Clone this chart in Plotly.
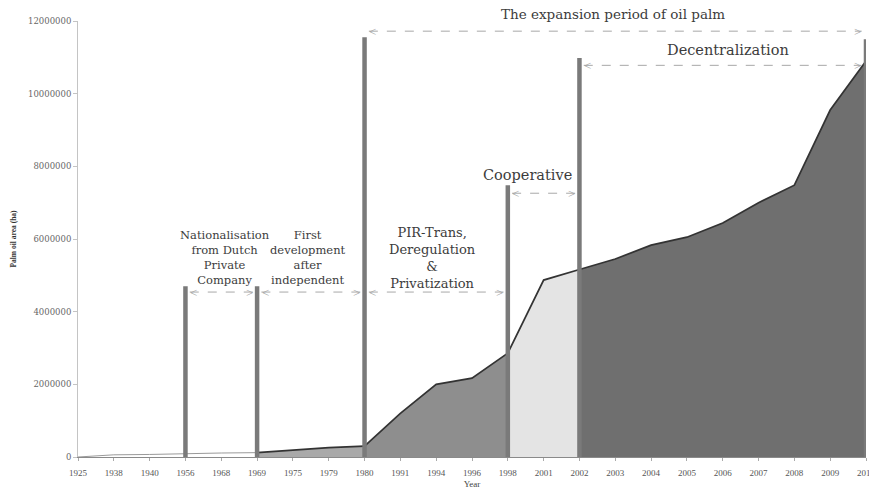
import plotly.graph_objects as go

years = ['1925', '1938', '1940', '1956', '1968', '1969', '1975', '1979', '1980', '1991', '1994',
         '1996', '1998', '2001', '2002', '2003', '2004', '2005', '2006', '2007', '2008', '2009', '2010']
area_ha = [0, 60000, 70000, 100000, 110000, 120000, 200000, 260000, 300000, 1200000, 2000000,
           2170000, 2860000, 4870000, 5160000, 5450000, 5830000, 6050000, 6440000, 7000000, 7480000,
           9550000, 10900000]

# period boundaries (start year, end year) and fill colour
periods = [('1969', '1980', '#a9a9a9'),
           ('1980', '1998', '#8e8e8e'),
           ('1998', '2002', '#e4e4e4'),
           ('2002', '2010', '#6f6f6f')]

# vertical marker lines: year and top value
marker_years = ['1956', '1969', '1980', '1998', '2002', '2010']
marker_tops = [4700000, 4700000, 11550000, 7480000, 10980000, 11500000]

# period labels: text, start year, end year, arrow level, text x (index), text y, font size
labels = [
    ('Nationalisation<br>from Dutch<br>Private<br>Company', '1956', '1969', 4540000, 4.1, 5500000, 11.5),
    ('First<br>development<br>after<br>independent', '1969', '1980', 4540000, 6.42, 5500000, 11.5),
    ('PIR-Trans,<br>Deregulation<br>&<br>Privatization', '1980', '1998', 4540000, 9.9, 5490000, 13),
    ('Cooperative', '1998', '2002', 7260000, 12.55, 7760000, 14.5),
    ('The expansion period of oil palm', '1980', '2010', 11720000, 14.95, 12190000, 13.5),
    ('Decentralization', '2002', '2010', 10780000, 18.15, 11200000, 14.5),
]

xi = list(range(len(years)))
pos = {y: i for i, y in enumerate(years)}
serif = 'DejaVu Serif'
times = 'Liberation Serif'

fig = go.Figure()

# early years: thin line only
end0 = pos['1969']
fig.add_trace(go.Scatter(x=xi[:end0 + 1], y=area_ha[:end0 + 1], mode='lines',
                         line=dict(color='#9a9a9a', width=1), hoverinfo='skip'))

for start, end, col in periods:
    a, b = pos[start], pos[end]
    fig.add_trace(go.Scatter(x=xi[a:b + 1], y=area_ha[a:b + 1], mode='lines',
                             fill='tozeroy', fillcolor=col,
                             line=dict(color='#333333', width=1.7), hoverinfo='skip'))

shapes = []
for yr, top in zip(marker_years, marker_tops):
    shapes.append(dict(type='line', xref='x', yref='y', x0=pos[yr], x1=pos[yr], y0=0, y1=top,
                       line=dict(color='#7a7a7a', width=4.5)))

annotations = []
for text, s, e, lev, tx, ty, size in labels:
    x0 = pos[s] + 0.12
    x1 = pos[e] - 0.12
    shapes.append(dict(type='line', xref='x', yref='y', x0=x0, x1=x1, y0=lev, y1=lev,
                       line=dict(color='#a8a8a8', width=1, dash='dash')))
    annotations.append(dict(x=x0 - 0.05, y=lev, xref='x', yref='y', text='<', showarrow=False,
                            xanchor='left', yanchor='middle',
                            font=dict(family=times, size=13, color='#a0a0a0')))
    annotations.append(dict(x=x1 + 0.05, y=lev, xref='x', yref='y', text='>', showarrow=False,
                            xanchor='right', yanchor='middle',
                            font=dict(family=times, size=13, color='#a0a0a0')))
    # labels above the axis range go on paper coordinates so they are not hidden
    if ty > 12000000:
        annotations.append(dict(x=tx, y=ty / 12000000, xref='x', yref='paper', text=text,
                                showarrow=False, xanchor='center', yanchor='middle',
                                font=dict(family=serif, size=size, color='#3c3c3c')))
    else:
        annotations.append(dict(x=tx, y=ty, xref='x', yref='y', text=text, showarrow=False,
                                xanchor='center', yanchor='middle',
                                font=dict(family=serif, size=size, color='#3c3c3c')))

fig.update_layout(
    width=869, height=489,
    margin=dict(l=78, r=3, t=21, b=32),
    plot_bgcolor='white', paper_bgcolor='white',
    showlegend=False,
    shapes=shapes,
    annotations=annotations,
    font=dict(family=times, color='#555555'),
)
fig.update_xaxes(range=[0, len(years) - 1], tickmode='array', tickvals=xi, ticktext=years,
                 tickfont=dict(family=times, size=9, color='#555555'),
                 ticklabeloverflow='allow', automargin=False, ticklabelstandoff=4,
                 showgrid=False, zeroline=False, showline=True, linecolor='#8a8a8a', linewidth=1,
                 ticks='outside', ticklen=3, tickcolor='#aaaaaa',
                 title=dict(text='Year', font=dict(family=times, size=9, color='#444444'), standoff=8))
fig.update_yaxes(range=[0, 12000000], tickmode='linear', tick0=0, dtick=2000000,
                 tickformat='d', automargin=False,
                 tickfont=dict(family=serif, size=8.5, color='#666666'),
                 showgrid=False, zeroline=False, showline=True, linecolor='#c4c4c4', linewidth=1,
                 ticks='outside', ticklen=4, tickcolor='#c4c4c4',
                 title=dict(text='<b>Palm oil area (ha)</b>',
                            font=dict(family=times, size=7.5, color='#333333'), standoff=10))

# page body has an 8px default margin; drop it so the figure fills the window
fig.write_html("out.html", config={'displayModeBar': False},
               post_script="document.body.style.margin = '0';")
